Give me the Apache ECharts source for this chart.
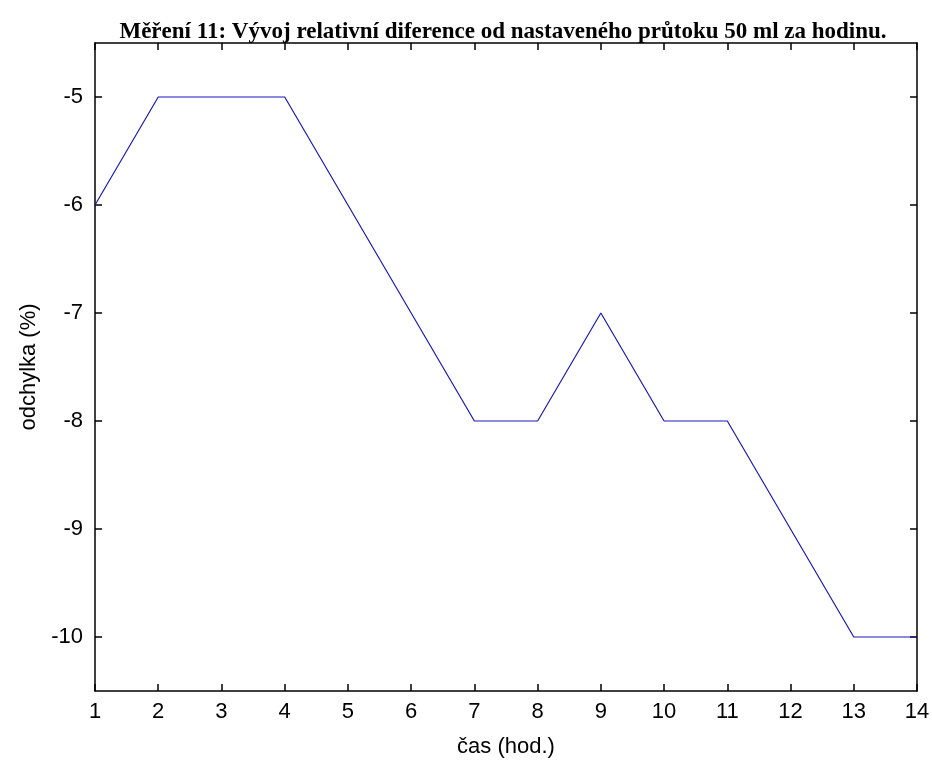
<!DOCTYPE html>
<html><head><meta charset="utf-8">
<script src="https://cdn.jsdelivr.net/npm/echarts@6/dist/echarts.min.js"></script>
<style>html,body{margin:0;padding:0;background:#fff}#c{width:932px;height:760px}</style>
</head><body><div id="c"></div>
<script>
const hours = [1,2,3,4,5,6,7,8,9,10,11,12,13,14];
const deviation = [-6,-5,-5,-5,-6,-7,-8,-8,-7,-8,-8,-9,-10,-10];
const yTicks = [-10,-9,-8,-7,-6,-5];
const titleText = 'Měření 11: Vývoj relativní diference od nastaveného průtoku 50 ml za hodinu.';
const xName = 'čas (hod.)';
const yName = 'odchylka (%)';

const chart = echarts.init(document.getElementById('c'));
const tickFont = () => ({fontFamily:'Liberation Sans, Arial', fontSize:22, color:'#000'});
const axisLine = () => ({show:true, onZero:false, lineStyle:{color:'#000', width:1.5}});
const axisTick = (extra) => Object.assign({show:true, inside:true, length:7, lineStyle:{color:'#000', width:1.5}}, extra||{});
chart.setOption({
  animation:false,
  title:{text:titleText, left:498, textAlign:'center', top:16,
    textStyle:{fontFamily:'Liberation Serif, Times New Roman', fontWeight:'bold', fontSize:23, color:'#000'}},
  grid:{left:95, right:15, top:43, bottom:69, containLabel:false, outerBoundsMode:'none'},
  xAxis:[{type:'value', min:1, max:14, interval:1, position:'bottom',
    axisLine:axisLine(), axisTick:axisTick(), splitLine:{show:false},
    axisLabel:Object.assign(tickFont(), {margin:10}),
    name:xName, nameLocation:'middle', nameGap:45, nameTextStyle:tickFont()},
   {type:'value', min:1, max:14, interval:1, position:'top',
    axisLine:axisLine(), axisTick:axisTick(), splitLine:{show:false}, axisLabel:{show:false}}],
  yAxis:[{type:'value', min:-10.5, max:-4.5, interval:1, position:'left',
    axisLine:axisLine(), splitLine:{show:false},
    axisLabel:Object.assign(tickFont(), {margin:12, customValues:yTicks}),
    axisTick:axisTick({customValues:yTicks}),
    name:yName, nameLocation:'middle', nameGap:55, nameTextStyle:tickFont()},
   {type:'value', min:-10.5, max:-4.5, interval:1, position:'right',
    axisLine:axisLine(), axisTick:axisTick({customValues:yTicks}),
    splitLine:{show:false}, axisLabel:{show:false}}],
  series:[{type:'line', data:hours.map((h,i)=>[h,deviation[i]]), showSymbol:false,
    lineStyle:{color:'#1a1ab8', width:1.2}}]
});
</script></body></html>
